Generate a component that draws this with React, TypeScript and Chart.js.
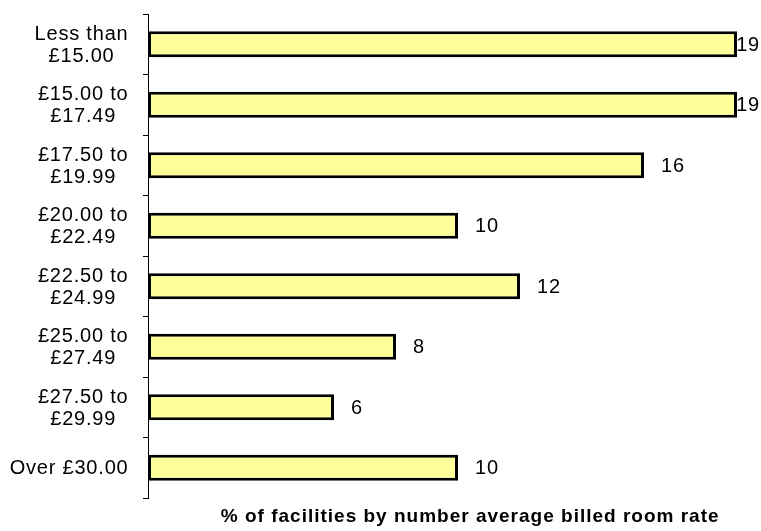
import React, { useEffect, useRef } from "react";
import { Chart, registerables } from "chart.js";

Chart.register(...registerables);

const categories: string[][] = [
  ["Less than", "£15.00"],
  ["£15.00 to", "£17.49"],
  ["£17.50 to", "£19.99"],
  ["£20.00 to", "£22.49"],
  ["£22.50 to", "£24.99"],
  ["£25.00 to", "£27.49"],
  ["£27.50 to", "£29.99"],
  ["Over £30.00"],
];
const values: number[] = [19, 19, 16, 10, 12, 8, 6, 10];
const axisTitle = "% of facilities by number average billed room rate";

const FONT = '"Liberation Sans", Arial, sans-serif';

const labelPlugin = {
  id: "customLabels",
  afterDatasetsDraw(chart: any) {
    const ctx = chart.ctx;
    const meta = chart.getDatasetMeta(0);
    const W = chart.width;
    ctx.save();
    ctx.fillStyle = "#000";
    ctx.font = `20px ${FONT}`;
    try { (ctx as any).letterSpacing = "0.8px"; } catch (e) {}
    ctx.textBaseline = "middle";
    ctx.textAlign = "left";
    meta.data.forEach((el: any, i: number) => {
      const txt = String(values[i]);
      const tw = ctx.measureText(txt).width;
      const x = Math.min(el.x + 17, W - tw - 1);
      ctx.fillText(txt, x, el.y + 1);
    });
    // category labels
    const ys = chart.scales.y;
    const rightEdge = 128.5;
    categories.forEach((lines, i) => {
      const cy = ys.getPixelForValue(i);
      const widths = lines.map((l) => ctx.measureText(l).width);
      const maxW = Math.max(...widths);
      const cx = rightEdge - maxW / 2;
      const lh = 22;
      const start = cy - ((lines.length - 1) * lh) / 2;
      ctx.textAlign = "center";
      lines.forEach((l, j) => {
        ctx.fillText(l, cx, start + j * lh + 1);
      });
    });
    // axis title
    const ca = chart.chartArea;
    ctx.font = `bold 19px ${FONT}`;
    try { (ctx as any).letterSpacing = "1px"; } catch (e) {}
    ctx.textAlign = "center";
    ctx.textBaseline = "middle";
    const tx = ca.left + 0.547 * (ca.right - ca.left);
    ctx.fillText(axisTitle, tx, ca.bottom + 19);
    ctx.restore();
  },
};

export default function App() {
  const ref = useRef<HTMLCanvasElement | null>(null);
  useEffect(() => {
    document.body.style.margin = "0";
    const canvas = ref.current;
    if (!canvas) return;
    const chart = new Chart(canvas, {
      type: "bar",
      data: {
        labels: categories.map((c) => c.join(" ")),
        datasets: [
          {
            data: values,
            backgroundColor: "#FFFF99",
            borderColor: "#000000",
            borderWidth: 3,
            borderSkipped: false,
            barPercentage: 0.43,
            categoryPercentage: 1,
          },
        ],
      },
      options: {
        indexAxis: "y",
        animation: false,
        responsive: false,
        maintainAspectRatio: false,
        layout: { padding: { left: 0, right: 24, top: 14, bottom: 33 } },
        plugins: {
          legend: { display: false },
          tooltip: { enabled: false },
          title: { display: false },
        },
        scales: {
          x: {
            display: false,
            min: 0,
            max: 19,
          },
          y: {
            display: true,
            offset: true,
            ticks: { display: false },
            grid: {
              display: true,
              offset: true,
              drawOnChartArea: false,
              drawTicks: true,
              tickLength: 5,
              color: "#000",
              lineWidth: 1,
            },
            border: { display: true, color: "#000", width: 1 },
            afterFit(scale: any) {
              scale.width = 148;
            },
          },
        },
      },
      plugins: [labelPlugin],
    });
    return () => chart.destroy();
  }, []);
  return (
    <div style={{ width: 761, height: 531, background: "#fff" }}>
      <canvas ref={ref} width={761} height={531} style={{ display: "block" }} />
    </div>
  );
}
